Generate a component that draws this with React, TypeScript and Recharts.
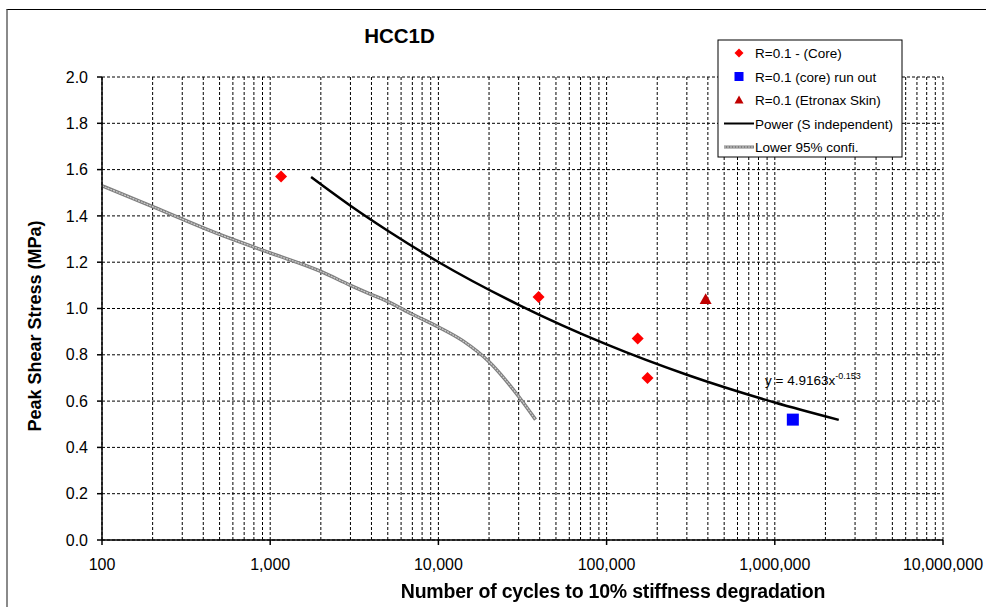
import React from "react";
import { ComposedChart, XAxis, YAxis, CartesianGrid, Line, Scatter } from "recharts";

// R=0.1 core specimens
const coreCycles = [1160, 39400, 153000, 175000];
const coreStress = [1.57, 1.05, 0.87, 0.7];

// R=0.1 core run out
const runoutCycles = [1280000];
const runoutStress = [0.52];

// R=0.1 Etronax skin
const skinCycles = [388000];
const skinStress = [1.04];

// power fit
const powerCycles = [1750, 3000, 5000, 10000, 30000, 100000, 300000, 1000000, 2400000];
const powerStress = [1.568, 1.444, 1.336, 1.201, 1.016, 0.845, 0.714, 0.594, 0.519];

// lower 95% confidence
const lowerCycles = [100, 200, 500, 1000, 2000, 3000, 4000, 5000, 7000, 10000, 14000, 20000, 30000, 37800];
const lowerStress = [1.53, 1.44, 1.32, 1.24, 1.16, 1.1, 1.06, 1.03, 0.975, 0.92, 0.86, 0.77, 0.62, 0.52];

const decades = [100, 1000, 10000, 100000, 1000000, 10000000];
const yTicks = [0, 0.2, 0.4, 0.6, 0.8, 1.0, 1.2, 1.4, 1.6, 1.8, 2.0];

const xTicks: number[] = [];
decades.slice(0, -1).forEach((d) => {
  for (let m = 1; m <= 9; m++) xTicks.push(d * m);
});
xTicks.push(10000000);

const toPoints = (xs: number[], ys: number[]) => xs.map((x, i) => ({ x, y: ys[i] }));

const FONT = "'Liberation Sans', Arial, sans-serif";

const Diamond = ({ cx, cy, r = 6, fill = "#ff0000" }: any) => (
  <path d={`M${cx},${cy - r}L${cx + r},${cy}L${cx},${cy + r}L${cx - r},${cy}Z`} fill={fill} />
);
const Square = ({ cx, cy, r = 6, fill = "#0000ff" }: any) => (
  <rect x={cx - r} y={cy - r} width={2 * r} height={2 * r} fill={fill} />
);
const Triangle = ({ cx, cy, r = 6, fill = "#c00000" }: any) => (
  <path d={`M${cx},${cy - r}L${cx + r},${cy + r * 0.8}L${cx - r},${cy + r * 0.8}Z`} fill={fill} />
);

const XTick = ({ x, y, payload }: any) => {
  const v = payload.value;
  if (!decades.includes(v)) return <g />;
  return (
    <g>
      <line x1={x} x2={x} y1={y - 5} y2={y} stroke="#000" strokeWidth={1.5} />
      <text x={x} y={y + 25} textAnchor="middle" fontSize={16} fontFamily={FONT} fill="#000">
        {v.toLocaleString("en-US")}
      </text>
    </g>
  );
};

const legendRows = [
  { label: "R=0.1 - (Core)", kind: "diamond" },
  { label: "R=0.1 (core) run out", kind: "square" },
  { label: "R=0.1 (Etronax Skin)", kind: "triangle" },
  { label: "Power (S independent)", kind: "line" },
  { label: "Lower 95% confi.", kind: "grey" },
];

function LegendBox() {
  return (
    <svg width={186} height={119} style={{ position: "absolute", left: 717, top: 39 }}>
      <rect x={1} y={1} width={184} height={117} fill="#fff" stroke="#000" strokeWidth={1} />
      {legendRows.map((row, i) => {
        const cy = 14 + i * 23.5;
        let mark: React.ReactNode = null;
        if (row.kind === "diamond") mark = <Diamond cx={22} cy={cy} r={4.5} />;
        if (row.kind === "square") mark = <Square cx={22} cy={cy} r={4.5} />;
        if (row.kind === "triangle") mark = <Triangle cx={22} cy={cy} r={4.5} />;
        if (row.kind === "line")
          mark = <line x1={7} x2={37} y1={cy} y2={cy} stroke="#000" strokeWidth={2} />;
        if (row.kind === "grey")
          mark = (
            <g>
              <line x1={7} x2={37} y1={cy} y2={cy} stroke="#7f7f7f" strokeWidth={3} />
              <line x1={7} x2={37} y1={cy} y2={cy} stroke="#cfcfcf" strokeWidth={1} strokeDasharray="2 1" />
            </g>
          );
        return (
          <g key={row.label}>
            {mark}
            <text x={38} y={cy + 5} fontSize={13.5} fontFamily={FONT} fill="#000">
              {row.label}
            </text>
          </g>
        );
      })}
    </svg>
  );
}

export default function App() {
  return (
    <div style={{ position: "fixed", left: 0, top: 0, width: 986, height: 607, background: "#fff" }}>
      <div
        style={{
          position: "absolute",
          left: 6,
          top: 9,
          width: 980,
          height: 598,
          borderLeft: "2px solid #8a8a8a",
          borderTop: "1px solid #000",
        }}
      />
      <ComposedChart
        width={986}
        height={607}
        margin={{ top: 77, right: 43, bottom: 37, left: 42 }}
        style={{ position: "absolute", left: 0, top: 0 }}
      >
        <CartesianGrid stroke="#000" strokeDasharray="3 2" strokeWidth={1} />
        <XAxis
          dataKey="x"
          type="number"
          scale="log"
          domain={[100, 10000000]}
          ticks={xTicks}
          interval={0}
          allowDataOverflow
          height={30}
          tickSize={5}
          tickMargin={0}
          tickLine={false}
          tick={<XTick />}
          axisLine={{ stroke: "#000", strokeWidth: 1.5 }}
        />
        <YAxis
          dataKey="y"
          type="number"
          domain={[0, 2]}
          ticks={yTicks}
          interval={0}
          width={60}
          tickSize={5}
          tickMargin={9}
          tickFormatter={(v: number) => v.toFixed(1)}
          tick={{ fontSize: 16, fontFamily: FONT, fill: "#000" }}
          tickLine={{ stroke: "#000", strokeWidth: 1.5 }}
          axisLine={{ stroke: "#000", strokeWidth: 1.5 }}
        />
        <Line
          data={toPoints(lowerCycles, lowerStress)}
          dataKey="y"
          type="monotone"
          stroke="#7f7f7f"
          strokeWidth={3.5}
          dot={false}
          isAnimationActive={false}
        />
        <Line
          data={toPoints(lowerCycles, lowerStress)}
          dataKey="y"
          type="monotone"
          stroke="#d0d0d0"
          strokeWidth={1.2}
          strokeDasharray="2 1"
          dot={false}
          isAnimationActive={false}
        />
        <Line
          data={toPoints(powerCycles, powerStress)}
          dataKey="y"
          type="monotone"
          stroke="#000"
          strokeWidth={2.5}
          dot={false}
          isAnimationActive={false}
        />
        <Scatter data={toPoints(coreCycles, coreStress)} dataKey="y" shape={<Diamond r={6} />} isAnimationActive={false} />
        <Scatter data={toPoints(runoutCycles, runoutStress)} dataKey="y" shape={<Square r={6} />} isAnimationActive={false} />
        <Scatter data={toPoints(skinCycles, skinStress)} dataKey="y" shape={<Triangle r={6} />} isAnimationActive={false} />
      </ComposedChart>

      <div
        style={{
          position: "absolute",
          left: 0,
          top: 24,
          width: 799,
          textAlign: "center",
          fontFamily: FONT,
          fontWeight: "bold",
          fontSize: 20.5,
          lineHeight: "24px",
        }}
      >
        HCC1D
      </div>

      <div
        style={{
          position: "absolute",
          left: 765,
          top: 368,
          fontFamily: FONT,
          fontSize: 13.5,
          lineHeight: "16px",
          color: "#000",
          whiteSpace: "nowrap",
        }}
      >
        y = 4.9163x<sup style={{ fontSize: 9, verticalAlign: "6px" }}>-0.153</sup>
      </div>

      <div
        style={{
          position: "absolute",
          left: 0,
          top: 580,
          width: 1226,
          textAlign: "center",
          fontFamily: FONT,
          fontWeight: "bold",
          fontSize: 19.5,
          lineHeight: "22px",
          letterSpacing: -0.2,
        }}
      >
        Number of cycles to 10% stiffness degradation
      </div>

      <div
        style={{
          position: "absolute",
          left: 35,
          top: 326,
          transform: "translate(-50%, -50%) rotate(-90deg)",
          fontFamily: FONT,
          fontWeight: "bold",
          fontSize: 18,
          lineHeight: "20px",
          whiteSpace: "nowrap",
        }}
      >
        Peak Shear Stress (MPa)
      </div>

      <LegendBox />
    </div>
  );
}
